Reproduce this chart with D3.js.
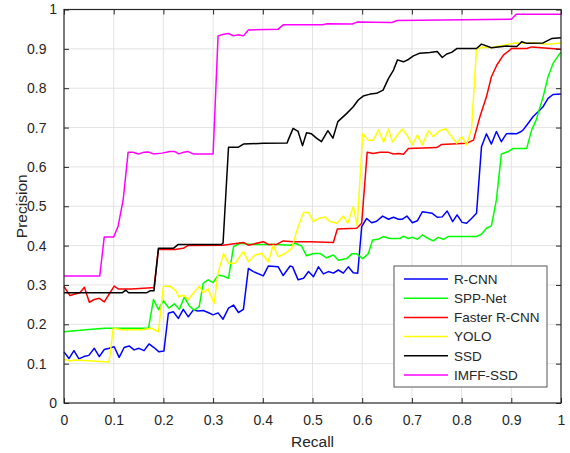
<!DOCTYPE html>
<html>
<head>
<meta charset="utf-8">
<script src="https://cdn.jsdelivr.net/npm/d3@7"></script>
<style>
    html, body { margin: 0; padding: 0; background: #fff; }
    svg { display: block; font-family: "Liberation Sans", Arial, sans-serif; }
</style>
</head>
<body>
<div id="chart"></div>
<script>
// Data: [recall, precision] points
const rcnn = [[0,0.13],[0.01,0.113],[0.02,0.133],[0.03,0.112],[0.04,0.118],[0.05,0.121],[0.061,0.139],[0.071,0.118],[0.081,0.136],[0.091,0.139],[0.101,0.143],[0.111,0.116],[0.121,0.141],[0.131,0.145],[0.141,0.135],[0.151,0.139],[0.161,0.133],[0.171,0.15],[0.181,0.141],[0.191,0.13],[0.201,0.132],[0.21,0.228],[0.22,0.232],[0.23,0.215],[0.24,0.238],[0.25,0.219],[0.26,0.236],[0.27,0.234],[0.28,0.235],[0.29,0.23],[0.3,0.224],[0.31,0.229],[0.32,0.213],[0.331,0.241],[0.341,0.249],[0.351,0.23],[0.361,0.238],[0.371,0.342],[0.381,0.334],[0.401,0.323],[0.411,0.348],[0.431,0.346],[0.441,0.324],[0.455,0.348],[0.46,0.346],[0.471,0.313],[0.482,0.317],[0.492,0.334],[0.502,0.321],[0.512,0.346],[0.522,0.328],[0.532,0.334],[0.542,0.33],[0.552,0.338],[0.562,0.33],[0.572,0.346],[0.582,0.331],[0.591,0.33],[0.599,0.448],[0.609,0.469],[0.619,0.458],[0.629,0.462],[0.641,0.475],[0.653,0.467],[0.663,0.472],[0.673,0.467],[0.681,0.467],[0.69,0.475],[0.701,0.458],[0.711,0.463],[0.721,0.486],[0.731,0.484],[0.741,0.482],[0.751,0.472],[0.761,0.473],[0.771,0.488],[0.782,0.461],[0.791,0.478],[0.801,0.459],[0.81,0.457],[0.82,0.469],[0.83,0.482],[0.84,0.651],[0.85,0.684],[0.86,0.658],[0.87,0.69],[0.88,0.664],[0.89,0.684],[0.9,0.685],[0.91,0.684],[0.92,0.69],[0.924,0.694],[0.934,0.711],[0.944,0.728],[0.954,0.74],[0.964,0.753],[0.974,0.774],[0.984,0.784],[1,0.785]];

const sppNet = [[0,0.181],[0.05,0.187],[0.082,0.19],[0.17,0.19],[0.18,0.263],[0.19,0.238],[0.2,0.26],[0.211,0.241],[0.222,0.252],[0.232,0.238],[0.242,0.269],[0.252,0.247],[0.262,0.236],[0.272,0.245],[0.28,0.304],[0.29,0.313],[0.3,0.306],[0.31,0.325],[0.32,0.323],[0.331,0.317],[0.341,0.397],[0.354,0.406],[0.38,0.403],[0.43,0.403],[0.455,0.401],[0.465,0.406],[0.478,0.399],[0.488,0.374],[0.502,0.38],[0.515,0.38],[0.528,0.369],[0.542,0.376],[0.552,0.363],[0.569,0.367],[0.579,0.379],[0.589,0.379],[0.601,0.367],[0.612,0.379],[0.621,0.414],[0.632,0.416],[0.642,0.423],[0.656,0.418],[0.676,0.418],[0.683,0.424],[0.693,0.418],[0.701,0.421],[0.711,0.416],[0.721,0.427],[0.733,0.418],[0.743,0.412],[0.753,0.421],[0.763,0.416],[0.773,0.423],[0.83,0.423],[0.84,0.429],[0.85,0.444],[0.86,0.45],[0.87,0.516],[0.88,0.633],[0.894,0.639],[0.904,0.647],[0.931,0.647],[0.941,0.694],[0.95,0.719],[0.964,0.778],[0.974,0.829],[0.984,0.863],[0.998,0.889],[1,0.89]];

const fasterRcnn = [[0,0.296],[0.012,0.273],[0.022,0.277],[0.032,0.28],[0.041,0.294],[0.051,0.256],[0.061,0.263],[0.071,0.266],[0.081,0.257],[0.091,0.277],[0.101,0.297],[0.109,0.29],[0.136,0.29],[0.176,0.293],[0.181,0.293],[0.19,0.39],[0.223,0.39],[0.24,0.393],[0.249,0.4],[0.32,0.401],[0.361,0.408],[0.371,0.401],[0.401,0.41],[0.411,0.403],[0.428,0.403],[0.441,0.412],[0.461,0.41],[0.495,0.41],[0.542,0.408],[0.55,0.442],[0.589,0.444],[0.599,0.457],[0.61,0.637],[0.622,0.634],[0.636,0.637],[0.653,0.637],[0.663,0.633],[0.673,0.634],[0.683,0.632],[0.693,0.647],[0.75,0.649],[0.76,0.657],[0.81,0.66],[0.824,0.668],[0.837,0.728],[0.85,0.778],[0.86,0.829],[0.871,0.859],[0.884,0.884],[0.901,0.901],[0.931,0.901],[0.941,0.905],[1,0.899]];

const yolo = [[0,0.111],[0.012,0.107],[0.022,0.109],[0.042,0.108],[0.082,0.105],[0.091,0.105],[0.099,0.19],[0.116,0.186],[0.156,0.186],[0.176,0.19],[0.19,0.181],[0.2,0.297],[0.213,0.297],[0.225,0.285],[0.231,0.27],[0.24,0.274],[0.25,0.263],[0.26,0.279],[0.272,0.297],[0.28,0.28],[0.29,0.29],[0.302,0.253],[0.31,0.33],[0.321,0.38],[0.331,0.355],[0.344,0.355],[0.361,0.385],[0.371,0.359],[0.384,0.376],[0.398,0.38],[0.411,0.359],[0.421,0.401],[0.431,0.372],[0.445,0.38],[0.458,0.393],[0.471,0.448],[0.482,0.484],[0.492,0.484],[0.502,0.461],[0.512,0.469],[0.525,0.473],[0.535,0.461],[0.549,0.457],[0.562,0.475],[0.571,0.457],[0.582,0.499],[0.59,0.45],[0.601,0.685],[0.612,0.668],[0.622,0.668],[0.633,0.694],[0.643,0.663],[0.653,0.696],[0.661,0.663],[0.673,0.685],[0.681,0.696],[0.69,0.681],[0.701,0.656],[0.711,0.681],[0.721,0.656],[0.733,0.692],[0.743,0.677],[0.756,0.692],[0.768,0.697],[0.78,0.677],[0.79,0.66],[0.8,0.677],[0.81,0.656],[0.82,0.696],[0.83,0.901],[0.843,0.904],[0.86,0.903],[0.876,0.907],[0.896,0.912],[0.91,0.915],[0.931,0.914],[0.944,0.915],[0.964,0.913],[0.977,0.912],[1,0.915]];

const ssd = [[0,0.28],[0.117,0.28],[0.124,0.287],[0.13,0.28],[0.166,0.28],[0.173,0.285],[0.181,0.285],[0.19,0.393],[0.22,0.393],[0.23,0.403],[0.317,0.403],[0.32,0.406],[0.331,0.65],[0.351,0.65],[0.361,0.658],[0.401,0.66],[0.449,0.661],[0.451,0.668],[0.461,0.698],[0.471,0.69],[0.48,0.654],[0.488,0.687],[0.498,0.684],[0.508,0.673],[0.518,0.664],[0.531,0.692],[0.541,0.673],[0.551,0.715],[0.569,0.736],[0.582,0.753],[0.592,0.77],[0.602,0.78],[0.616,0.785],[0.629,0.787],[0.642,0.795],[0.653,0.825],[0.663,0.846],[0.671,0.872],[0.683,0.867],[0.693,0.873],[0.703,0.882],[0.716,0.889],[0.736,0.891],[0.751,0.893],[0.761,0.878],[0.77,0.887],[0.78,0.891],[0.791,0.901],[0.83,0.901],[0.84,0.912],[0.86,0.903],[0.891,0.907],[0.911,0.906],[0.921,0.918],[0.931,0.914],[0.964,0.915],[0.981,0.926],[1,0.928]];

const imffSsd = [[0,0.323],[0.072,0.323],[0.081,0.422],[0.1,0.422],[0.109,0.45],[0.119,0.516],[0.129,0.637],[0.139,0.637],[0.15,0.633],[0.16,0.637],[0.17,0.638],[0.18,0.633],[0.197,0.635],[0.213,0.639],[0.223,0.639],[0.231,0.633],[0.24,0.637],[0.25,0.639],[0.26,0.633],[0.3,0.633],[0.31,0.933],[0.321,0.937],[0.331,0.939],[0.341,0.933],[0.351,0.936],[0.361,0.933],[0.371,0.948],[0.431,0.95],[0.441,0.961],[0.52,0.961],[0.53,0.964],[0.58,0.963],[0.59,0.968],[0.66,0.967],[0.67,0.972],[0.9,0.975],[0.91,0.988],[1,0.988]];

const seriesNames = ["R-CNN", "SPP-Net", "Faster R-CNN", "YOLO", "SSD", "IMFF-SSD"];
const seriesColors = ["#0000ff", "#00ff00", "#ff0000", "#ffff00", "#000000", "#ff00ff"];
const seriesData = [rcnn, sppNet, fasterRcnn, yolo, ssd, imffSsd];
const tickValues = [0, 0.1, 0.2, 0.3, 0.4, 0.5, 0.6, 0.7, 0.8, 0.9, 1];

// Layout
const config = {
    width: 570,
    height: 453,
    margin: { top: 9.5, right: 9, bottom: 50, left: 64 },
    axisColor: "#262626",
    gridColor: "#e3e3e3",
    tickFont: 14,
    labelFont: 15.5,
    legendFont: 13.5
};

const innerW = config.width - config.margin.left - config.margin.right;
const innerH = config.height - config.margin.top - config.margin.bottom;

const x = d3.scaleLinear().domain([0, 1]).range([0, innerW]);
const y = d3.scaleLinear().domain([0, 1]).range([innerH, 0]);

const svg = d3.select("#chart")
    .append("svg")
    .attr("width", config.width)
    .attr("height", config.height);

const g = svg.append("g")
    .attr("transform", `translate(${config.margin.left},${config.margin.top})`);

// Grid
g.append("g")
    .selectAll("line")
    .data(tickValues.slice(1, -1))
    .enter()
    .append("line")
    .attr("x1", d => x(d)).attr("x2", d => x(d))
    .attr("y1", 0).attr("y2", innerH)
    .attr("stroke", config.gridColor);

g.append("g")
    .selectAll("line")
    .data(tickValues.slice(1, -1))
    .enter()
    .append("line")
    .attr("y1", d => y(d)).attr("y2", d => y(d))
    .attr("x1", 0).attr("x2", innerW)
    .attr("stroke", config.gridColor);

// Series lines
const line = d3.line().x(d => x(d[0])).y(d => y(d[1]));

g.append("g")
    .selectAll("path")
    .data(seriesData)
    .enter()
    .append("path")
    .attr("d", line)
    .attr("fill", "none")
    .attr("stroke", (d, i) => seriesColors[i])
    .attr("stroke-width", 1.5)
    .attr("stroke-linejoin", "round");

// Axes (ticks pointing inwards on all four sides)
const fmt = d => d3.format("~g")(d);

function styleAxis(sel) {
    sel.select(".domain").remove();
    sel.selectAll(".tick line").attr("stroke", config.axisColor);
    sel.selectAll("text")
        .attr("fill", config.axisColor)
        .style("font-size", config.tickFont + "px");
}

g.append("g")
    .attr("transform", `translate(0,${innerH})`)
    .call(d3.axisBottom(x).tickValues(tickValues).tickFormat(fmt).tickSize(-5).tickPadding(12))
    .call(styleAxis);

g.append("g")
    .call(d3.axisTop(x).tickValues(tickValues).tickFormat("").tickSize(-5))
    .call(styleAxis);

const yAxis = g.append("g")
    .call(d3.axisLeft(y).tickValues(tickValues).tickFormat(fmt).tickSize(-5).tickPadding(7))
    .call(styleAxis);

// decimal labels sit further left in the original figure
yAxis.selectAll(".tick text")
    .attr("x", d => (d === 0 || d === 1) ? -7 : -17.5);

g.append("g")
    .attr("transform", `translate(${innerW},0)`)
    .call(d3.axisRight(y).tickValues(tickValues).tickFormat("").tickSize(-5))
    .call(styleAxis);

// Box
g.append("rect")
    .attr("width", innerW)
    .attr("height", innerH)
    .attr("fill", "none")
    .attr("stroke", config.axisColor)
    .attr("stroke-width", 1.2);

// Axis titles
svg.append("text")
    .attr("x", config.margin.left + innerW / 2)
    .attr("y", 447)
    .attr("text-anchor", "middle")
    .attr("fill", config.axisColor)
    .style("font-size", config.labelFont + "px")
    .text("Recall");

svg.append("text")
    .attr("transform", `translate(26.5,${config.margin.top + innerH / 2}) rotate(-90)`)
    .attr("text-anchor", "middle")
    .attr("fill", config.axisColor)
    .style("font-size", config.labelFont + "px")
    .text("Precision");

// Legend
const legend = svg.append("g").attr("transform", "translate(394,266)");

legend.append("rect")
    .attr("width", 153)
    .attr("height", 121)
    .attr("fill", "#fff")
    .attr("stroke", "#555");

const items = legend.selectAll(".item")
    .data(seriesNames)
    .enter()
    .append("g")
    .attr("class", "item")
    .attr("transform", (d, i) => `translate(0,${13 + i * 19.2})`);

items.append("line")
    .attr("x1", 10).attr("x2", 54)
    .attr("stroke", (d, i) => seriesColors[i])
    .attr("stroke-width", 1.5);

items.append("text")
    .attr("x", 60)
    .attr("dy", "0.35em")
    .attr("fill", config.axisColor)
    .style("font-size", config.legendFont + "px")
    .text(d => d);
</script>
</body>
</html>
